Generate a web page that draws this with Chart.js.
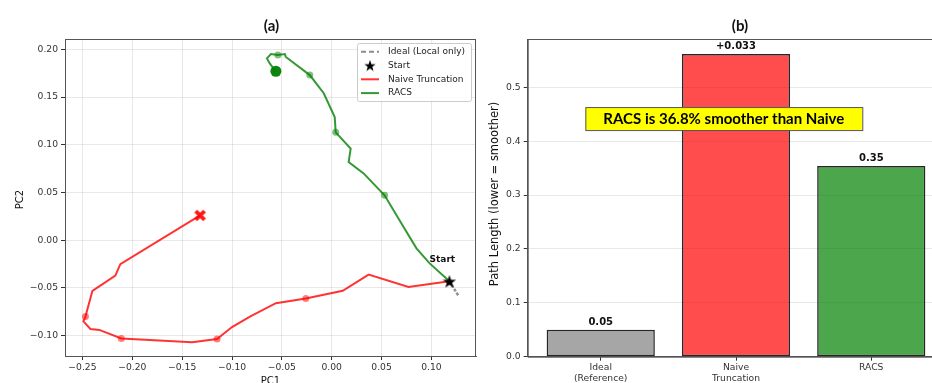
<!DOCTYPE html>
<html>
<head>
<meta charset="utf-8">
<script src="https://cdn.jsdelivr.net/npm/chart.js@4.4.1/dist/chart.umd.min.js"></script>
<style>
  html, body { margin: 0; padding: 0; background: #fff; overflow: hidden; }
  #wrap { position: relative; width: 932px; height: 383px; overflow: hidden; }
  #trajChart { position: absolute; left: 0; top: 0; }
  #lenChart { position: absolute; left: 480px; top: 0; }
</style>
</head>
<body>
<div id="wrap">
  <canvas id="trajChart" width="484" height="383"></canvas>
  <canvas id="lenChart" width="480" height="383"></canvas>
</div>
<script>
// --- (a) trajectories in PC space ---
const startX = [0.118];
const startY = [-0.043];

const idealX = [0.118, 0.127];
const idealY = [-0.043, -0.058];

const naiveX = [0.118, 0.077, 0.037, 0.011, -0.026, -0.056, -0.082, -0.100, -0.115, -0.140,
  -0.211, -0.233, -0.242, -0.249, -0.247, -0.240, -0.217, -0.212, -0.132];
const naiveY = [-0.043, -0.049, -0.036, -0.053, -0.061, -0.066, -0.080, -0.091, -0.1035, -0.107,
  -0.103, -0.094, -0.093, -0.085, -0.080, -0.053, -0.037, -0.025, 0.026];
const naiveMarkX = [-0.026, -0.115, -0.211, -0.247];
const naiveMarkY = [-0.061, -0.1035, -0.103, -0.080];

const racsX = [0.118, 0.098, 0.085, 0.068, 0.053, 0.032, 0.017, 0.019, 0.004, 0.003,
  -0.008, -0.022, -0.046, -0.047, -0.054, -0.061, -0.065, -0.062, -0.056];
const racsY = [-0.043, -0.024, -0.0085, 0.021, 0.047, 0.070, 0.082, 0.096, 0.113, 0.129,
  0.154, 0.173, 0.192, 0.195, 0.194, 0.195, 0.1905, 0.185, 0.177];
const racsMarkX = [0.053, 0.004, -0.022, -0.054];
const racsMarkY = [0.047, 0.113, 0.173, 0.194];

const trajTicksX = [-0.25, -0.20, -0.15, -0.10, -0.05, 0.00, 0.05, 0.10];
const trajTicksY = [-0.10, -0.05, 0.00, 0.05, 0.10, 0.15, 0.20];

// --- (b) path length per method ---
const barCategories = [['Ideal', '(Reference)'], ['Naive', 'Truncation'], ['RACS']];
const barValues = [0.05, 0.562, 0.354];
const barNotes = [null, '+0.033', null];
const barTicks = [0.0, 0.1, 0.2, 0.3, 0.4, 0.5];
const smoothNote = 'RACS is 36.8% smoother than Naive';

const SPINE = '#555';
const GRID = 'rgba(150,150,150,0.22)';
const TICK_COLOR = '#333';
const TEXT = '#222';
const tickFont = { family: 'DejaVu Sans', size: 9.2 };

const RED_LINE = 'rgba(255,0,0,0.8)';
const GREEN_LINE = 'rgba(0,128,0,0.8)';

function pts(xs, ys) { return xs.map((x, i) => ({ x, y: ys[i] })); }
function fmt(v, d) { return (v < 0 ? '\u2212' : '') + Math.abs(v).toFixed(d); }

function makeStar(size, color) {
  const c = document.createElement('canvas');
  c.width = size; c.height = size;
  const g = c.getContext('2d');
  const r = size / 2, ri = r * 0.4;
  g.beginPath();
  for (let i = 0; i < 10; i++) {
    const rr = i % 2 ? ri : r;
    const a = -Math.PI / 2 + i * Math.PI / 5;
    g.lineTo(r + rr * Math.cos(a), r + rr * Math.sin(a) + size * 0.05);
  }
  g.closePath();
  g.fillStyle = color;
  g.fill();
  return c;
}

function makeCross(size, color) {
  const c = document.createElement('canvas');
  c.width = size; c.height = size;
  const g = c.getContext('2d');
  const p = size * 0.16;
  g.strokeStyle = color;
  g.lineWidth = size * 0.3;
  g.beginPath();
  g.moveTo(p, p); g.lineTo(size - p, size - p);
  g.moveTo(size - p, p); g.lineTo(p, size - p);
  g.stroke();
  return c;
}

const starBig = makeStar(14, '#000');
const starSmall = makeStar(12, '#000');
const crossEnd = makeCross(13, 'rgba(255,0,0,0.9)');

const trajDecor = {
  id: 'trajDecor',
  afterDatasetsDraw(chart) {
    const { ctx, chartArea: a, scales } = chart;
    ctx.save();
    // axes frame
    ctx.strokeStyle = SPINE;
    ctx.lineWidth = 1;
    ctx.strokeRect(a.left + 0.5, a.top + 0.5, a.right - a.left - 1, a.bottom - a.top);

    // "Start" tag over the start marker
    const sx = scales.x.getPixelForValue(startX[0]);
    const sy = scales.y.getPixelForValue(startY[0]);
    ctx.fillStyle = '#111';
    ctx.font = 'bold 9px "DejaVu Sans"';
    ctx.textAlign = 'center';
    ctx.textBaseline = 'alphabetic';
    ctx.fillText('Start', sx - 7, sy - 19);

    // legend, upper right
    const lw = 114, lh = 58;
    const lx = a.right - 5 - lw, ly = a.top + 4;
    ctx.fillStyle = 'rgba(255,255,255,0.85)';
    ctx.strokeStyle = '#ccc';
    ctx.beginPath();
    ctx.roundRect(lx + 0.5, ly + 0.5, lw, lh, 2);
    ctx.fill();
    ctx.stroke();
    const items = [
      { label: 'Ideal (Local only)', kind: 'dash', color: 'rgba(128,128,128,0.9)' },
      { label: 'Start', kind: 'star' },
      { label: 'Naive Truncation', kind: 'line', color: RED_LINE },
      { label: 'RACS', kind: 'line', color: GREEN_LINE }
    ];
    ctx.font = '9px "DejaVu Sans"';
    ctx.textAlign = 'left';
    ctx.textBaseline = 'middle';
    items.forEach((it, i) => {
      const y = ly + 8.7 + i * 13.8;
      const h0 = lx + 4, h1 = lx + 22;
      if (it.kind === 'star') {
        ctx.drawImage(starSmall, (h0 + h1) / 2 - 6, y - 6, 12, 12);
      } else {
        ctx.strokeStyle = it.color;
        ctx.lineWidth = 2;
        ctx.setLineDash(it.kind === 'dash' ? [5, 3] : []);
        ctx.beginPath();
        ctx.moveTo(h0, y); ctx.lineTo(h1, y);
        ctx.stroke();
        ctx.setLineDash([]);
      }
      ctx.fillStyle = TEXT;
      ctx.fillText(it.label, lx + 31, y);
    });
    ctx.restore();
  },
  afterDraw(chart) {
    const { ctx, chartArea: a } = chart;
    ctx.save();
    ctx.fillStyle = '#111';
    ctx.textAlign = 'center';
    ctx.font = 'bold 15px Lato';
    ctx.textBaseline = 'middle';
    ctx.fillText('(a)', (a.left + a.right) / 2 + 1, 26);
    ctx.font = '10px "DejaVu Sans"';
    ctx.textBaseline = 'alphabetic';
    ctx.fillText('PC1', (a.left + a.right) / 2, 384);
    ctx.translate(20, (a.top + a.bottom) / 2 + 2);
    ctx.rotate(-Math.PI / 2);
    ctx.textBaseline = 'middle';
    ctx.fillText('PC2', 0, 0);
    ctx.restore();
  }
};

new Chart(document.getElementById('trajChart'), {
  type: 'scatter',
  data: {
    datasets: [
      { label: 'Start', data: pts(startX, startY), pointStyle: starBig, pointRadius: 7, order: 0 },
      { label: 'Naive end', data: [{ x: naiveX[naiveX.length - 1], y: naiveY[naiveY.length - 1] }],
        pointStyle: crossEnd, pointRadius: 7, order: 1 },
      { label: 'RACS end', data: [{ x: racsX[racsX.length - 1], y: racsY[racsY.length - 1] }],
        pointRadius: 5.5, backgroundColor: 'rgba(0,128,0,0.95)', borderWidth: 0, order: 1 },
      { label: 'Naive marks', data: pts(naiveMarkX, naiveMarkY), pointRadius: 3.5,
        backgroundColor: 'rgba(255,0,0,0.5)', borderWidth: 0, order: 2 },
      { label: 'RACS marks', data: pts(racsMarkX, racsMarkY), pointRadius: 3.5,
        backgroundColor: 'rgba(0,128,0,0.5)', borderWidth: 0, order: 2 },
      { label: 'Ideal (Local only)', data: pts(idealX, idealY), showLine: true, pointRadius: 0,
        borderColor: 'rgba(110,110,110,0.75)', borderWidth: 2.5, borderDash: [3, 1.5], order: 1 },
      { label: 'Naive Truncation', data: pts(naiveX, naiveY), showLine: true, pointRadius: 0,
        borderColor: RED_LINE, borderWidth: 2, order: 4 },
      { label: 'RACS', data: pts(racsX, racsY), showLine: true, pointRadius: 0,
        borderColor: GREEN_LINE, borderWidth: 2, order: 4 }
    ]
  },
  options: {
    responsive: false,
    animation: false,
    devicePixelRatio: 1,
    layout: { padding: { top: 39, right: 4, left: 0, bottom: 0 } },
    plugins: { legend: { display: false }, tooltip: { enabled: false } },
    scales: {
      x: {
        type: 'linear', min: -0.2675, max: 0.1447,
        afterBuildTicks: (s) => { s.ticks = trajTicksX.map((v) => ({ value: v })); },
        afterFit: (s) => { s.height = 27; },
        ticks: { font: tickFont, color: TICK_COLOR, padding: 2, maxRotation: 0, autoSkip: false,
          callback: (v) => fmt(v, 2) },
        grid: { color: GRID, tickLength: 4, tickColor: TICK_COLOR },
        border: { color: SPINE }
      },
      y: {
        type: 'linear', min: -0.1213, max: 0.2108,
        afterBuildTicks: (s) => { s.ticks = trajTicksY.map((v) => ({ value: v })); },
        afterFit: (s) => { s.width = 65; },
        ticks: { font: tickFont, color: TICK_COLOR, padding: 3, autoSkip: false,
          callback: (v) => fmt(v, 2) },
        grid: { color: GRID, tickLength: 4, tickColor: TICK_COLOR },
        border: { color: SPINE }
      }
    }
  },
  plugins: [trajDecor]
});

const lenDecor = {
  id: 'lenDecor',
  afterDatasetsDraw(chart) {
    const { ctx, chartArea: a, scales } = chart;
    ctx.save();
    ctx.strokeStyle = SPINE;
    ctx.lineWidth = 1;
    ctx.strokeRect(a.left + 0.5, a.top + 0.5, a.right - a.left, a.bottom - a.top);

    // value tags over the bars
    ctx.fillStyle = '#111';
    ctx.font = 'bold 10px "DejaVu Sans"';
    ctx.textAlign = 'center';
    ctx.textBaseline = 'alphabetic';
    barValues.forEach((v, i) => {
      const x = scales.x.getPixelForValue(i);
      const y = scales.y.getPixelForValue(v);
      ctx.fillText(barNotes[i] || v.toFixed(2), x, y - 4.5);
    });

    // summary box
    const bx = scales.x.getPixelForValue(0.91);
    const by = scales.y.getPixelForValue(0.442);
    ctx.font = 'bold 15px Lato';
    const tw = ctx.measureText(smoothNote).width;
    const bw = tw + 36, bh = 23;
    ctx.fillStyle = '#ffff00';
    ctx.fillRect(bx - bw / 2, by - bh / 2, bw, bh);
    ctx.strokeStyle = '#555';
    ctx.strokeRect(bx - bw / 2 + 0.5, by - bh / 2 + 0.5, bw, bh);
    ctx.fillStyle = '#000';
    ctx.textBaseline = 'middle';
    ctx.fillText(smoothNote, bx, by + 1);
    ctx.restore();
  },
  afterDraw(chart) {
    const { ctx, chartArea: a } = chart;
    ctx.save();
    ctx.fillStyle = '#111';
    ctx.textAlign = 'center';
    ctx.textBaseline = 'middle';
    ctx.font = 'bold 15px Lato';
    ctx.fillText('(b)', (a.left + a.right) / 2 + 4, 26);
    ctx.font = '11.5px "DejaVu Sans"';
    ctx.translate(15.5, 194);
    ctx.rotate(-Math.PI / 2);
    ctx.fillText('Path Length (lower = smoother)', 0, 0);
    ctx.restore();
  }
};

new Chart(document.getElementById('lenChart'), {
  type: 'bar',
  data: {
    datasets: [{
      data: barValues.map((v, i) => ({ x: i, y: v })),
      backgroundColor: ['rgba(128,128,128,0.7)', 'rgba(255,0,0,0.7)', 'rgba(0,128,0,0.7)'],
      borderColor: 'rgba(0,0,0,0.85)',
      borderWidth: 1.5,
      borderSkipped: false,
      categoryPercentage: 1,
      barPercentage: 0.8
    }]
  },
  options: {
    responsive: false,
    animation: false,
    devicePixelRatio: 1,
    layout: { padding: { top: 39, right: 15.7, left: 0, bottom: 0 } },
    plugins: { legend: { display: false }, tooltip: { enabled: false } },
    scales: {
      x: {
        type: 'linear', min: -0.54, max: 2.54, offset: false,
        afterBuildTicks: (s) => { s.ticks = barCategories.map((_, i) => ({ value: i })); },
        afterFit: (s) => { s.height = 26.3; },
        ticks: { font: tickFont, color: TICK_COLOR, padding: 1, maxRotation: 0, autoSkip: false,
          callback: (v) => barCategories[v] },
        grid: { offset: false, drawOnChartArea: false, tickLength: 4, tickColor: TICK_COLOR },
        border: { color: SPINE }
      },
      y: {
        min: 0, max: 0.5897,
        afterBuildTicks: (s) => { s.ticks = barTicks.map((v) => ({ value: v })); },
        afterFit: (s) => { s.width = 47.7; },
        ticks: { font: tickFont, color: TICK_COLOR, padding: 3, autoSkip: false,
          callback: (v) => v.toFixed(1) },
        grid: { color: GRID, tickLength: 4, tickColor: TICK_COLOR },
        border: { color: SPINE }
      }
    }
  },
  plugins: [lenDecor]
});
</script>
</body>
</html>
